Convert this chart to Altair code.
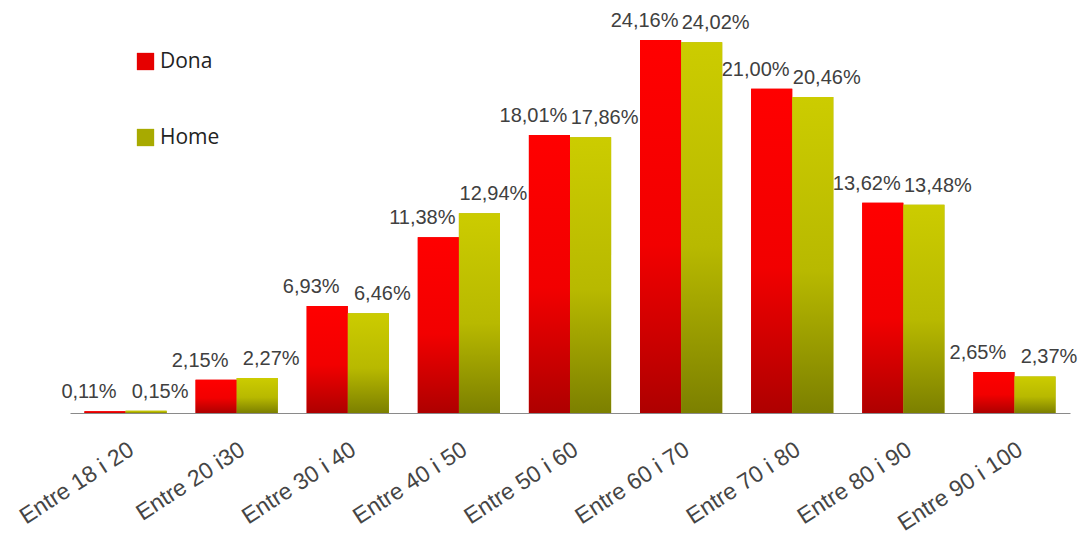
import altair as alt
import pandas as pd

groups = ["Entre 18 i 20", "Entre 20 i30", "Entre 30 i 40", "Entre 40 i 50",
          "Entre 50 i 60", "Entre 60 i 70", "Entre 70 i 80", "Entre 80 i 90",
          "Entre 90 i 100"]
series = ["Dona", "Home"]
dona = [0.11, 2.15, 6.93, 11.38, 18.01, 24.16, 21.00, 13.62, 2.65]
home = [0.15, 2.27, 6.46, 12.94, 17.86, 24.02, 20.46, 13.48, 2.37]

rows = []
for g, d, h in zip(groups, dona, home):
    rows.append({"grup": g, "serie": "Dona", "valor": d})
    rows.append({"grup": g, "serie": "Home", "valor": h})
df = pd.DataFrame(rows)

grad_red = {"gradient": "linear", "x1": 0, "y1": 0, "x2": 0, "y2": 1,
            "stops": [{"offset": 0, "color": "#ff0000"},
                      {"offset": 0.55, "color": "#f20000"},
                      {"offset": 1, "color": "#ae0000"}]}
grad_yel = {"gradient": "linear", "x1": 0, "y1": 0, "x2": 0, "y2": 1,
            "stops": [{"offset": 0, "color": "#cccc00"},
                      {"offset": 0.55, "color": "#b8b900"},
                      {"offset": 1, "color": "#7c8000"}]}

base = alt.Chart(df).encode(
    x=alt.X("grup:N", sort=groups, title=None,
            scale=alt.Scale(paddingInner=0.26, paddingOuter=0.13),
            axis=alt.Axis(labelAngle=-33, labelAlign="right", labelBaseline="top",
                          labelFontSize=23, labelColor="#454545", labelPadding=25,
                          ticks=False, domainColor="#8a8a8a", domainWidth=1,
                          labelFont="Liberation Sans")),
    xOffset=alt.XOffset("serie:N", scale=alt.Scale(domain=series)),
    y=alt.Y("valor:Q", scale=alt.Scale(domain=[0, 25]), axis=None),
)

legend_bars = base.mark_bar().encode(
    color=alt.Color("serie:N",
                    scale=alt.Scale(domain=series, range=["#e60000", "#a8aa00"]),
                    legend=alt.Legend(title=None, orient="none", legendX=65, legendY=24,
                                      symbolType="square", symbolSize=300,
                                      symbolStrokeWidth=0, labelFontSize=21,
                                      labelColor="#222222", labelFont="Open Sans",
                                      rowPadding=54, labelOffset=4))
)

dona_bars = base.transform_filter(alt.datum.serie == "Dona").mark_bar(fill=grad_red)
home_bars = base.transform_filter(alt.datum.serie == "Home").mark_bar(fill=grad_yel)

lab = base.transform_calculate(
    txt="replace(format(datum.valor, '.2f'), '.', ',') + '%'"
)
dona_txt = lab.transform_filter(alt.datum.serie == "Dona").mark_text(
    baseline="alphabetic", dy=-13, dx=-16, fontSize=20, color="#404040",
    font="Liberation Sans").encode(text="txt:N")
home_txt = lab.transform_filter(alt.datum.serie == "Home").mark_text(
    baseline="alphabetic", dy=-13, dx=14, fontSize=20, color="#404040",
    font="Liberation Sans").encode(text="txt:N")

chart = alt.layer(legend_bars, dona_bars, home_bars, dona_txt, home_txt).properties(
    width=1000, height=386,
    autosize=alt.AutoSizeParams(type="none"),
    padding={"left": 70, "top": 27, "right": 11, "bottom": 126},
    background="white",
).configure_view(stroke=None)

chart.save("out.html", embed_options={"renderer": "svg", "actions": False})
